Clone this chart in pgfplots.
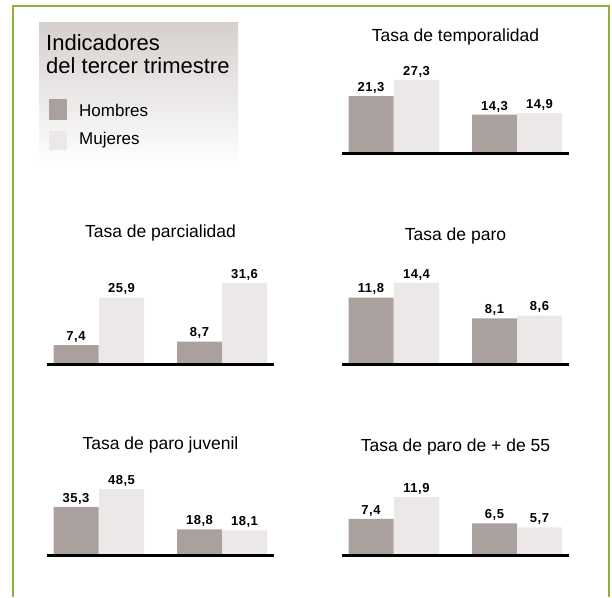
\documentclass[border=0pt]{standalone}
\usepackage{fontspec}
\setmainfont{Liberation Sans}
\newfontfamily\labfont[LetterSpace=4]{Liberation Sans}
\usepackage{pgfplots}
\pgfplotsset{compat=1.18}
\definecolor{hom}{HTML}{AAA09E}
\definecolor{muj}{HTML}{ECE8E8}
\definecolor{frm}{HTML}{8DB33A}
\definecolor{legtop}{HTML}{D5D0CE}
\pgfplotsset{
  panel/.style={scale only axis, width=227pt, xmin=0, xmax=227, ymin=0,
    axis lines=none, clip=false, anchor=south west,
    title style={at={(0.5,1)}, anchor=center, yshift=-8pt, font=\fontsize{17.5}{17.5}\selectfont, inner sep=0pt},
    /pgf/number format/.cd, fixed, fixed zerofill, precision=1, use comma, assume math mode=true,
    /pgfplots/.cd,
    every node near coord/.append style={font=\labfont\bfseries\fontsize{13}{13}\selectfont, inner sep=2.5pt}},
  hb/.style={ybar, bar shift=0pt, bar width=45, fill=hom, draw=none, nodes near coords},
  mb/.style={ybar, bar shift=0pt, bar width=45, fill=muj, draw=none, nodes near coords},
}
\newcommand{\baseline}{\draw[line width=3pt] (axis cs:0,0) -- (axis cs:227,0);}
\begin{document}
\begin{tikzpicture}
\path[use as bounding box] (0,0) rectangle (612pt,-597pt);
\draw[frm, line width=1.5pt] (13pt,-597pt) -- (13pt,-6pt) -- (609pt,-6pt) -- (609pt,-597pt);
% legend
\shade[top color=legtop, bottom color=white] (39pt,-22pt) rectangle (238pt,-165pt);
\node[anchor=base west, inner sep=0pt, font=\fontsize{22}{22}\selectfont] at (46pt,-50pt) {Indicadores};
\node[anchor=base west, inner sep=0pt, font=\fontsize{22}{22}\selectfont] at (46pt,-73pt) {del tercer trimestre};
\fill[hom] (49pt,-99pt) rectangle (67pt,-120pt);
\node[anchor=west, inner sep=0pt, font=\fontsize{17}{17}\selectfont] at (79pt,-110pt) {Hombres};
\fill[muj] (49pt,-131pt) rectangle (67pt,-150pt);
\node[anchor=west, inner sep=0pt, font=\fontsize{17}{17}\selectfont] at (79pt,-140pt) {Mujeres};

% Tasa de temporalidad
\begin{axis}[panel, at={(342pt,-153pt)}, height=118pt, ymax=44.1, title={Tasa de temporalidad}]
\addplot[hb] table {x y
29 21.3
152.5 14.3
};
\addplot[mb] table {x y
74.5 27.3
197.5 14.9
};
\baseline
\end{axis}

% Tasa de parcialidad
\begin{axis}[panel, at={(47pt,-364pt)}, height=133pt, ymax=51.9, title={Tasa de parcialidad}]
\addplot[hb] table {x y
29 7.4
152.5 8.7
};
\addplot[mb] table {x y
74.5 25.9
197.5 31.6
};
\baseline
\end{axis}

% Tasa de paro
\begin{axis}[panel, at={(342pt,-364pt)}, height=130pt, ymax=23.1, title={Tasa de paro}]
\addplot[hb] table {x y
29 11.8
152.5 8.1
};
\addplot[mb] table {x y
74.5 14.4
197.5 8.6
};
\baseline
\end{axis}

% Tasa de paro juvenil
\begin{axis}[panel, at={(47pt,-555pt)}, height=112pt, ymax=82.3, title={Tasa de paro juvenil}]
\addplot[hb] table {x y
29 35.3
152.5 18.8
};
\addplot[mb] table {x y
74.5 48.5
197.5 18.1
};
\baseline
\end{axis}

% Tasa de paro de + de 55
\begin{axis}[panel, at={(342pt,-555pt)}, height=110pt, ymax=22.6, title={Tasa de paro de + de 55}]
\addplot[hb] table {x y
29 7.4
152.5 6.5
};
\addplot[mb] table {x y
74.5 11.9
197.5 5.7
};
\baseline
\end{axis}
\end{tikzpicture}
\end{document}
